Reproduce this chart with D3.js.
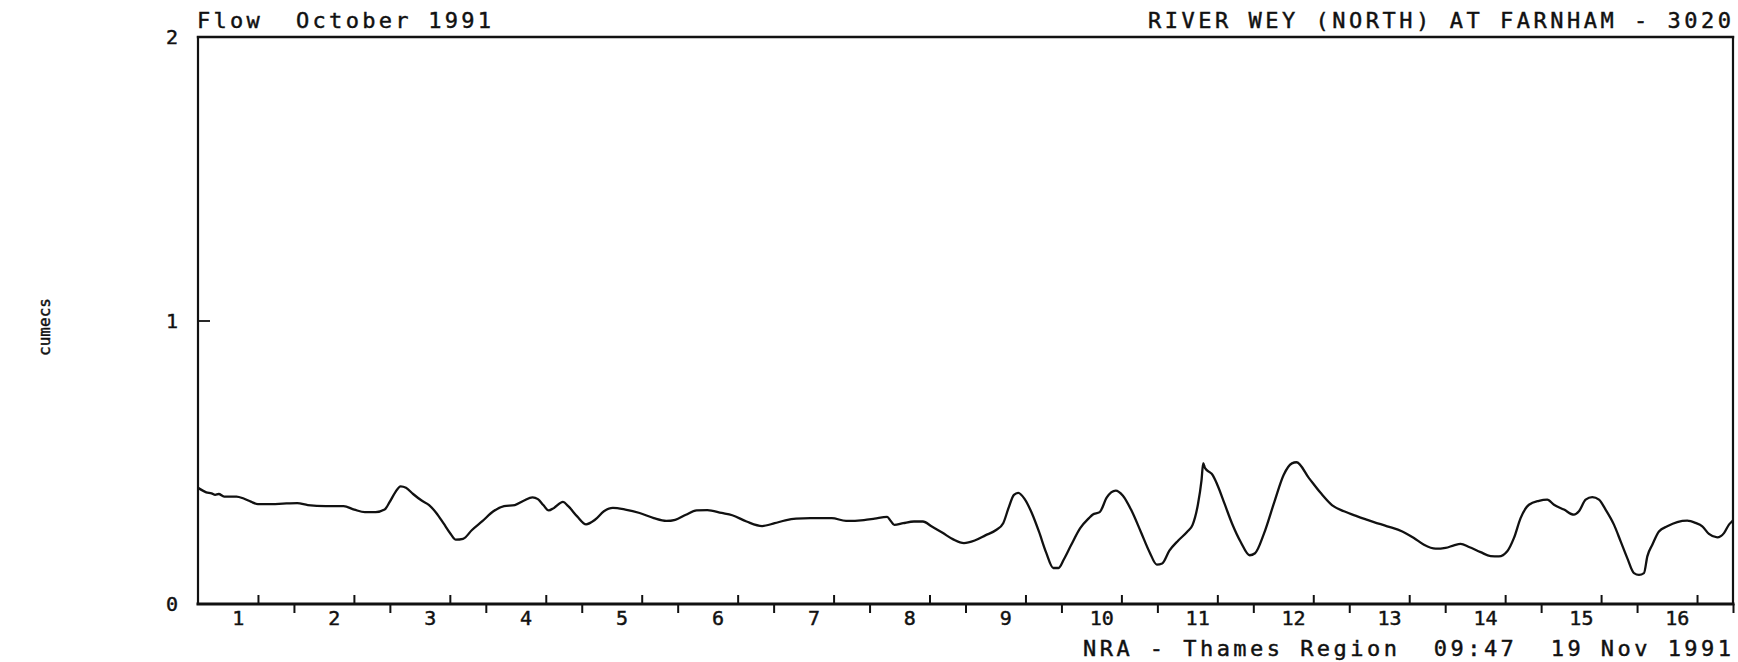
<!DOCTYPE html>
<html>
<head>
<meta charset="utf-8">
<script src="https://cdn.jsdelivr.net/npm/d3@7"></script>
<style>
  html, body { margin: 0; padding: 0; background: #fff; }
  svg { display: block; }
  text { font-family: "DejaVu Sans Mono", "Liberation Mono", monospace; fill: #111; stroke: #111; stroke-width: 0.45; }
</style>
</head>
<body>
<script>
// Flow record, River Wey (North) at Farnham, October 1991.
// Time is given in days from 00:00 on 1 October; flow in cumecs.
const flowDays = [
  0.000, 0.086, 0.142, 0.179, 0.216, 0.272, 0.402, 0.476, 0.551, 0.625,
  0.774, 0.885, 1.034, 1.145, 1.331, 1.517, 1.629, 1.740, 1.852, 1.945,
  2.000, 2.056, 2.112, 2.168, 2.242, 2.335, 2.409, 2.484, 2.558, 2.632,
  2.688, 2.763, 2.856, 2.967, 3.079, 3.190, 3.302, 3.394, 3.487, 3.543,
  3.599, 3.655, 3.711, 3.804, 3.859, 3.952, 4.045, 4.138, 4.231, 4.324,
  4.454, 4.603, 4.751, 4.881, 4.974, 5.086, 5.197, 5.309, 5.458, 5.569,
  5.718, 5.880, 6.011, 6.122, 6.234, 6.383, 6.606, 6.755, 6.941, 7.053,
  7.183, 7.221, 7.258, 7.351, 7.463, 7.556, 7.649, 7.761, 7.872, 7.984,
  8.096, 8.207, 8.319, 8.393, 8.449, 8.505, 8.550, 8.617, 8.691, 8.766,
  8.840, 8.915, 8.970, 9.026, 9.101, 9.194, 9.287, 9.324, 9.399, 9.473,
  9.566, 9.641, 9.734, 9.827, 9.920, 9.994, 10.050, 10.125, 10.218, 10.311,
  10.367, 10.423, 10.460, 10.478, 10.497, 10.553, 10.572, 10.628, 10.702, 10.777,
  10.870, 10.962, 11.018, 11.111, 11.223, 11.316, 11.402, 11.450, 11.580, 11.701,
  11.823, 11.945, 12.084, 12.257, 12.396, 12.553, 12.674, 12.779, 12.900, 13.004,
  13.091, 13.161, 13.248, 13.369, 13.473, 13.560, 13.647, 13.717, 13.786, 13.873,
  13.977, 14.064, 14.134, 14.238, 14.342, 14.394, 14.464, 14.533, 14.603, 14.672,
  14.759, 14.829, 14.898, 14.968, 15.020, 15.072, 15.107, 15.159, 15.228, 15.315,
  15.419, 15.523, 15.610, 15.680, 15.749, 15.836, 15.906, 15.958, 15.992, 16.000
];
const flowValues = [
  0.410, 0.394, 0.390, 0.385, 0.388, 0.379, 0.379, 0.372, 0.361, 0.352,
  0.352, 0.354, 0.356, 0.349, 0.345, 0.345, 0.333, 0.324, 0.324, 0.333,
  0.361, 0.394, 0.415, 0.410, 0.388, 0.364, 0.349, 0.321, 0.285, 0.248,
  0.227, 0.230, 0.261, 0.293, 0.327, 0.345, 0.349, 0.364, 0.376, 0.370,
  0.349, 0.330, 0.339, 0.360, 0.345, 0.309, 0.281, 0.297, 0.327, 0.339,
  0.333, 0.321, 0.303, 0.293, 0.297, 0.315, 0.330, 0.331, 0.321, 0.313,
  0.291, 0.275, 0.285, 0.295, 0.301, 0.303, 0.303, 0.293, 0.296, 0.301,
  0.307, 0.293, 0.279, 0.285, 0.291, 0.291, 0.273, 0.251, 0.228, 0.215,
  0.224, 0.242, 0.261, 0.285, 0.339, 0.385, 0.392, 0.370, 0.321, 0.255,
  0.182, 0.127, 0.127, 0.158, 0.208, 0.267, 0.303, 0.315, 0.324, 0.376,
  0.400, 0.382, 0.327, 0.255, 0.182, 0.139, 0.143, 0.188, 0.224, 0.255,
  0.279, 0.352, 0.436, 0.497, 0.479, 0.463, 0.457, 0.418, 0.352, 0.285,
  0.218, 0.172, 0.179, 0.248, 0.364, 0.455, 0.496, 0.500, 0.444, 0.392,
  0.348, 0.327, 0.309, 0.289, 0.274, 0.256, 0.233, 0.209, 0.195, 0.198,
  0.207, 0.212, 0.201, 0.183, 0.169, 0.168, 0.186, 0.233, 0.303, 0.350,
  0.364, 0.368, 0.350, 0.333, 0.315, 0.327, 0.368, 0.377, 0.368, 0.333,
  0.280, 0.221, 0.162, 0.109, 0.103, 0.109, 0.168, 0.209, 0.256, 0.274,
  0.289, 0.294, 0.286, 0.274, 0.247, 0.235, 0.250, 0.280, 0.292, 0.295
];

const dayLabels = ["1","2","3","4","5","6","7","8","9","10","11","12","13","14","15","16"];
const flowTicks = [0, 1, 2];
const flowTickLabels = ["0", "1", "2"];

const titleLeft = "Flow  October 1991";
const titleRight = "RIVER WEY (NORTH) AT FARNHAM - 3020";
const footer = "NRA - Thames Region  09:47  19 Nov 1991";
const unitLabel = "cumecs";

const W = 1738, H = 662;
const plot = { left: 198, right: 1733, top: 37, bottom: 604 };

const svg = d3.select("body").append("svg")
  .attr("width", W).attr("height", H);

const x = d3.scaleLinear().domain([0, 16]).range([plot.left, plot.right]);
const y = d3.scaleLinear().domain([0, 2]).range([plot.bottom, plot.top]);

// frame
const frame = svg.append("g").attr("stroke", "#111").attr("fill", "none").attr("stroke-linecap", "square");
frame.append("line").attr("x1", plot.left).attr("x2", plot.right).attr("y1", plot.top).attr("y2", plot.top).attr("stroke-width", 2.4);
frame.append("line").attr("x1", plot.left).attr("x2", plot.right).attr("y1", plot.bottom).attr("y2", plot.bottom).attr("stroke-width", 3);
frame.append("line").attr("x1", plot.left).attr("x2", plot.left).attr("y1", plot.top).attr("y2", plot.bottom).attr("stroke-width", 2.2);
frame.append("line").attr("x1", plot.right).attr("x2", plot.right).attr("y1", plot.top).attr("y2", plot.bottom).attr("stroke-width", 2.2);

// day boundaries: ticks below the axis at midnight
const dayTicks = d3.range(1, 17);
svg.append("g")
  .attr("transform", `translate(0,${plot.bottom})`)
  .call(d3.axisBottom(x).tickValues(dayTicks).tickSize(9).tickFormat(""))
  .call(g => g.select(".domain").remove())
  .call(g => g.selectAll(".tick line").attr("stroke", "#111").attr("stroke-width", 2));

// afternoon marks: ticks rising inside the plot at 15:00 each day
const markTicks = d3.range(0, 16).map(d => d + 0.625);
svg.append("g")
  .attr("transform", `translate(0,${plot.bottom})`)
  .call(d3.axisTop(x).tickValues(markTicks).tickSize(9).tickFormat(""))
  .call(g => g.select(".domain").remove())
  .call(g => g.selectAll(".tick line").attr("stroke", "#111").attr("stroke-width", 2));

// day numbers
svg.append("g").selectAll("text")
  .data(dayLabels)
  .join("text")
  .attr("x", (d, i) => x(i + 0.42))
  .attr("y", 625)
  .attr("text-anchor", "middle")
  .attr("font-size", 20)
  .text(d => d);

// flow axis
svg.append("g")
  .attr("transform", `translate(${plot.left},0)`)
  .call(d3.axisRight(y).tickValues([1]).tickSize(12).tickFormat(""))
  .call(g => g.select(".domain").remove())
  .call(g => g.selectAll(".tick line").attr("stroke", "#111").attr("stroke-width", 1.8));

svg.append("g").selectAll("text")
  .data(flowTicks)
  .join("text")
  .attr("x", 172)
  .attr("y", d => y(d))
  .attr("dy", "0.36em")
  .attr("text-anchor", "middle")
  .attr("font-size", 20)
  .text((d, i) => flowTickLabels[i]);

// flow trace
const line = d3.line()
  .x((d, i) => x(flowDays[i]))
  .y(d => y(d))
  .curve(d3.curveMonotoneX);

svg.append("path")
  .datum(flowValues)
  .attr("d", line)
  .attr("fill", "none")
  .attr("stroke", "#111")
  .attr("stroke-width", 2.3)
  .attr("stroke-linejoin", "round");

// headings and footer
svg.append("text")
  .attr("x", 197).attr("y", 28)
  .attr("font-size", 22)
  .style("white-space", "pre")
  .attr("textLength", 294).attr("lengthAdjust", "spacing")
  .text(titleLeft);

svg.append("text")
  .attr("x", 1148).attr("y", 28)
  .attr("font-size", 22)
  .style("white-space", "pre")
  .attr("textLength", 583).attr("lengthAdjust", "spacing")
  .text(titleRight);

svg.append("text")
  .attr("x", 1083).attr("y", 656)
  .attr("font-size", 22)
  .style("white-space", "pre")
  .attr("textLength", 648).attr("lengthAdjust", "spacing")
  .text(footer);

svg.append("text")
  .attr("transform", "translate(50,327) rotate(-90)")
  .attr("text-anchor", "middle")
  .attr("font-size", 16)
  .text(unitLabel);
</script>
</body>
</html>
